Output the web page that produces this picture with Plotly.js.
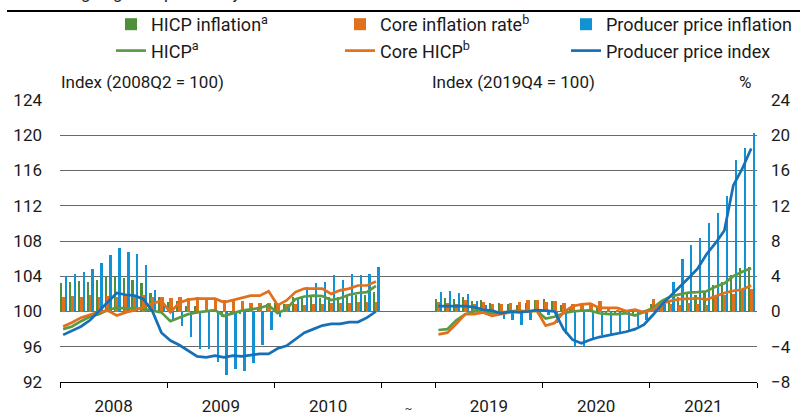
<!DOCTYPE html>
<html><head><meta charset="utf-8">
<script src="https://cdn.plot.ly/plotly-3.0.1.min.js"></script>
<style>html,body{margin:0;padding:0;background:#fff}#chart{width:808px;height:416px}</style>
</head><body><div id="chart"></div>
<script>
// Periods shown (monthly data), with a gap between the two panels
const years = [2008, 2009, 2010, 2019, 2020, 2021];
const gapSlots = 6;
const yearLabels = ['2008', '2009', '2010', '<span style="font-size:11px">~</span>', '2019', '2020', '2021'];

// Annual rates, % (right axis)
const hicpInflation = [
 3.2,3.3,3.5,3.3,3.6,4.0,4.0,3.8,3.6,3.2,2.1,1.6,
 1.1,1.2,0.6,0.6,0.0,-0.1,-0.6,-0.2,-0.3,-0.1,0.5,0.9,
 1.0,0.8,1.6,1.6,1.7,1.5,1.7,1.6,1.9,1.9,1.9,2.2,
 1.4,1.5,1.4,1.7,1.2,1.3,1.0,1.0,0.8,0.7,1.0,1.3,
 1.4,1.2,0.7,0.3,0.1,0.3,0.4,-0.2,-0.3,-0.3,-0.3,-0.3,
 0.9,0.9,1.3,1.6,2.0,1.9,2.2,3.0,3.4,4.1,4.9,5.0];
const coreInflation = [
 1.7,1.8,1.7,1.9,1.6,1.8,1.7,1.8,1.9,1.9,1.7,1.7,
 1.5,1.6,1.5,1.7,1.5,1.3,1.3,1.2,1.2,1.0,1.0,1.0,
 0.9,0.8,0.9,0.7,0.9,0.9,1.0,1.0,1.0,1.1,1.1,1.1,
 1.1,1.0,0.8,1.3,0.8,1.1,0.9,0.9,1.0,1.1,1.3,1.3,
 1.1,1.2,1.0,0.9,0.9,0.8,1.2,0.4,0.2,0.2,0.2,0.2,
 1.4,1.1,0.9,0.7,1.0,0.9,0.7,1.6,1.9,2.0,2.6,2.6];
const ppiInflation = [
 4.0,4.3,4.5,4.8,5.5,6.4,7.2,6.8,6.5,5.3,2.4,1.0,
 -0.8,-1.7,-2.9,-4.2,-4.2,-5.7,-7.2,-6.5,-6.7,-5.8,-3.8,-2.1,
 -0.6,0.5,1.4,2.8,3.2,3.3,4.1,3.6,4.2,4.1,4.2,5.0,
 2.2,2.3,2.1,2.0,1.2,0.7,-0.2,-0.8,-1.0,-1.5,-1.0,-0.3,
 -0.4,-1.3,-2.5,-4.0,-4.05,-3.1,-2.7,-2.5,-2.35,-2.1,-1.6,-1.0,
 0.3,0.9,3.3,6.0,7.5,8.3,10.0,11.2,13.1,17.2,18.5,20.3];

// Index levels (left axis): 2008-2010 with 2008Q2 = 100, 2019-2021 with 2019Q4 = 100
const hicpIndex = [
 98.0,98.3,98.9,99.4,99.7,100.2,100.4,100.35,100.3,100.3,100.1,99.9,
 98.9,99.3,99.7,99.9,100.05,100.15,99.5,99.8,100.1,100.25,100.4,100.7,
 99.8,100.3,101.4,101.7,101.8,101.75,101.3,101.5,101.9,102.1,102.2,102.9,
 97.9,98.0,99.0,99.7,100.0,100.1,99.8,99.9,100.05,100.1,100.0,100.1,
 99.2,99.4,99.8,100.0,100.1,100.1,99.8,99.7,99.7,99.8,99.55,100.0,
 100.4,101.2,101.7,101.95,102.15,102.2,102.3,102.8,103.2,104.0,104.5,104.9];
const coreIndex = [
 98.3,98.75,99.3,99.65,99.95,100.1,99.55,99.9,100.15,100.5,100.9,101.2,
 99.9,101.0,101.35,101.45,101.45,101.45,101.05,101.3,101.6,101.8,101.8,102.3,
 100.7,101.25,102.2,102.6,102.6,102.6,102.0,102.4,102.6,102.95,102.95,103.4,
 97.4,97.6,98.6,99.7,99.7,99.9,99.5,99.7,99.9,100.0,100.0,100.1,
 98.4,98.7,99.9,100.6,100.8,100.9,100.4,100.4,100.4,100.05,100.2,99.9,
 100.2,100.9,101.2,101.4,101.45,101.5,101.35,101.7,102.1,102.35,102.5,102.95];
const ppiIndex = [
 97.35,97.8,98.3,99.0,100.0,101.1,102.1,101.9,101.8,101.4,100.0,97.6,
 96.7,96.2,95.5,94.9,94.8,95.0,94.8,95.0,94.9,95.05,95.2,95.2,
 95.8,96.1,96.9,97.6,98.0,98.4,98.6,98.6,98.8,98.8,99.3,100.0,
 100.6,100.6,100.6,100.6,100.5,100.2,100.1,99.8,100.0,99.9,100.0,100.15,
 100.1,100.0,98.0,96.8,96.4,96.8,97.1,97.3,97.5,97.7,98.0,98.5,
 99.6,100.8,101.8,102.75,103.8,104.85,106.5,107.75,109.2,114.3,116.2,118.5];

// ---- slot positions on the numeric x axis ----
const slots = [];
years.forEach((y, i) => {
  const base = (i < 3 ? i * 12 : 36 + gapSlots + (i - 3) * 12);
  for (let m = 0; m < 12; m++) slots.push(base + m);
});
const nSlots = 36 + gapSlots + 36;
const boundaries = [0, 12, 24, 36, 42, 54, 66, 78];
const labelPos = [6, 18, 30, 39, 48, 60, 72];

function lineXY(vals) {
  const x = [], y = [];
  vals.forEach((v, i) => {
    if (i === 36) { x.push(null); y.push(null); }
    x.push(slots[i] + 0.35); y.push(v);
  });
  return {x, y};
}

const cGreen = '#4f8f3b', cOrange = '#e0701b', cBlueBar = '#1192d3', cBlueLine = '#1670b8';

const traces = [
  {type:'bar', name:'HICP inflation<sup>a</sup>', x:slots, y:hicpInflation, yaxis:'y', legend:'legend',
   offset:0.0, width:0.24, marker:{color:cGreen}, hoverinfo:'skip'},
  {type:'bar', name:'Core inflation rate<sup>b</sup>', x:slots, y:coreInflation, yaxis:'y', legend:'legend2',
   offset:0.2, width:0.40, marker:{color:cOrange}, hoverinfo:'skip'},
  {type:'bar', name:'Producer price inflation', x:slots, y:ppiInflation, yaxis:'y', legend:'legend3',
   offset:0.52, width:0.26, marker:{color:cBlueBar}, hoverinfo:'skip'},
];
const lH = lineXY(hicpIndex), lC = lineXY(coreIndex), lP = lineXY(ppiIndex);
traces.push(
  {type:'scatter', mode:'lines', name:'HICP<sup>a</sup>', x:lH.x, y:lH.y, yaxis:'y2', legend:'legend',
   line:{color:'#5a9a45', width:2.7}, connectgaps:false},
  {type:'scatter', mode:'lines', name:'Core HICP<sup>b</sup>', x:lC.x, y:lC.y, yaxis:'y2', legend:'legend2',
   line:{color:cOrange, width:2.7}, connectgaps:false},
  {type:'scatter', mode:'lines', name:'Producer price index', x:lP.x, y:lP.y, yaxis:'y2', legend:'legend3',
   line:{color:cBlueLine, width:2.7}, connectgaps:false}
);

const FONT = 'Roboto, "Open Sans", sans-serif';
const W = 808, H = 416, L = 60, R = 51, B = 34, PLOT_TOP = 100;
const pw = W - L - R, paperH = H - B;               // paper covers y = 0 .. 382
const px = v => (v - L) / pw;                       // pixel x -> paper
const py = v => (paperH - v) / paperH;              // pixel y -> paper
const plotDomain = [0, (paperH - PLOT_TOP) / paperH];

const legendBase = {orientation: 'v', yanchor: 'top', xanchor: 'left', y: py(6),
  font: {size: 18, family: FONT, color: '#1a1a1a'}, itemwidth: 30,
  bgcolor: 'rgba(0,0,0,0)', tracegroupgap: 0, traceorder: 'normal'};

const layout = {
  width: W, height: H,
  margin: {l: L, r: R, t: 0, b: B, pad: 0},
  paper_bgcolor: '#fff', plot_bgcolor: '#fff',
  font: {family: FONT, size: 17, color: '#1a1a1a'},
  barmode: 'overlay',
  bargap: 0,
  showlegend: true,
  legend: Object.assign({}, legendBase, {x: px(111)}),
  legend2: Object.assign({}, legendBase, {x: px(340)}),
  legend3: Object.assign({}, legendBase, {x: px(566)}),
  xaxis: {
    range: [0, nSlots], showgrid: false, zeroline: false,
    showline: true, linecolor: '#000', linewidth: 1,
    tickmode: 'array', tickvals: labelPos, ticktext: yearLabels,
    ticks: '', ticklabelstandoff: 9, tickfont: {size: 17},
    minor: {tickmode: 'array', tickvals: boundaries, ticks: 'outside', ticklen: 5,
            tickcolor: '#000', tickwidth: 1, showgrid: false}
  },
  yaxis: {
    domain: plotDomain,
    range: [-8, 24], side: 'right', tickmode: 'array',
    tickvals: [-8, -4, 0, 4, 8, 12, 16, 20, 24],
    showgrid: true, gridcolor: '#6a6a6a', gridwidth: 1, zeroline: false,
    showline: false, ticks: '', ticklabelstandoff: 13, tickfont: {size: 17}
  },
  yaxis2: {
    domain: plotDomain,
    range: [92, 124], overlaying: 'y', side: 'left', tickmode: 'array',
    tickvals: [92, 96, 100, 104, 108, 112, 116, 120, 124],
    showgrid: false, zeroline: false, showline: false, ticks: '', ticklabelstandoff: 17,
    tickfont: {size: 17}
  },
  shapes: [
    {type: 'line', xref: 'paper', yref: 'paper', x0: px(7), x1: px(800), y0: py(11), y1: py(11),
     line: {color: '#000', width: 2}}
  ],
  annotations: [
    {text: 'Change against previous year', xref: 'paper', yref: 'paper', x: px(40), y: py(5),
     xanchor: 'left', yanchor: 'bottom', showarrow: false, font: {size: 17}},
    {text: 'Index (2008Q2 = 100)', xref: 'paper', yref: 'paper', x: px(59), y: py(82),
     xanchor: 'left', yanchor: 'middle', showarrow: false, font: {size: 17}},
    {text: 'Index (2019Q4 = 100)', xref: 'paper', yref: 'paper', x: px(430), y: py(82),
     xanchor: 'left', yanchor: 'middle', showarrow: false, font: {size: 17}},
    {text: '%', xref: 'paper', yref: 'paper', x: px(745), y: py(82),
     xanchor: 'center', yanchor: 'middle', showarrow: false, font: {size: 17}}
  ]
};

Plotly.newPlot('chart', traces, layout, {staticPlot: true, displayModeBar: false});
</script></body></html>
